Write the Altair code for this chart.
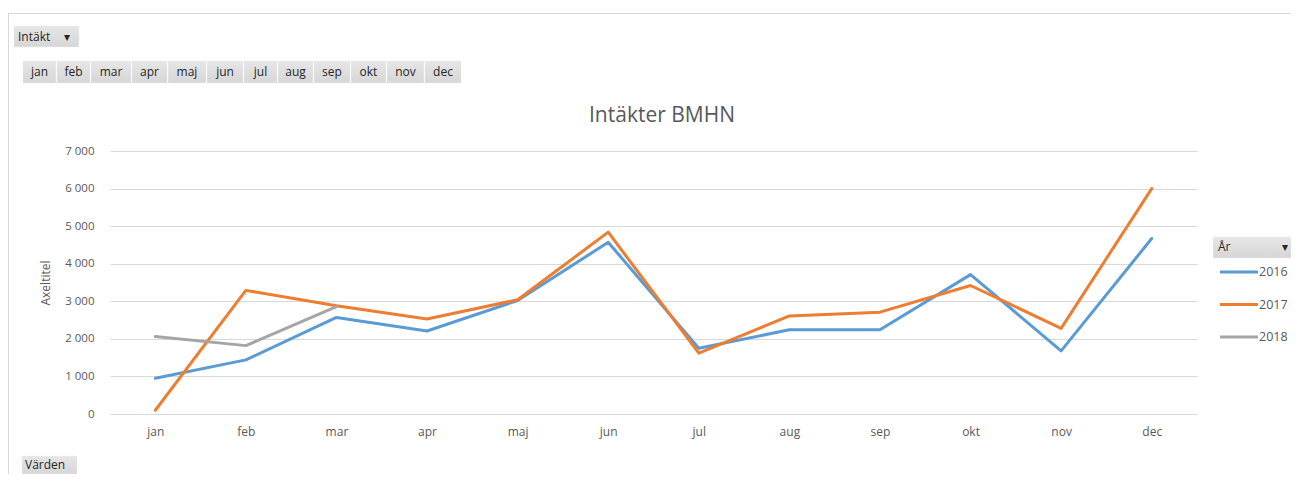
import altair as alt
import pandas as pd

# ---------------- data ----------------
months = ["jan", "feb", "mar", "apr", "maj", "jun", "jul", "aug", "sep", "okt", "nov", "dec"]
years = ["2016", "2017", "2018"]
v2016 = [950, 1440, 2570, 2210, 3020, 4570, 1750, 2240, 2240, 3710, 1680, 4670]
v2017 = [100, 3290, 2880, 2530, 3040, 4840, 1620, 2610, 2710, 3420, 2280, 6000]
v2018 = [2060, 1820, 2860]
colors = ["#5B9BD5", "#ED7D31", "#A5A5A5"]
y_ticks = [0, 1000, 2000, 3000, 4000, 5000, 6000, 7000]
title_text = "Intäkter BMHN"

rows = []
for yr, vals in zip(years, [v2016, v2017, v2018]):
    for m, v in zip(months, vals):
        rows.append({"Månad": m, "År": yr, "Intäkt": v})
df = pd.DataFrame(rows)

# ---------------- layout (page pixels -> plot-relative) ----------------
OX, OY = 110, 151          # plot origin on page
W, H = 1087, 263
FONT = "Open Sans"
GREY_TXT = "#595959"

def px(v):
    return v - OX

def py(v):
    return v - OY

color_scale = alt.Scale(domain=years, range=colors)

lines = alt.Chart(df).mark_line(strokeWidth=3, strokeJoin="round", strokeCap="round").encode(
    x=alt.X("Månad:N", sort=months,
            scale=alt.Scale(type="point", domain=months, padding=0.5),
            axis=alt.Axis(title=None, labelAngle=0, ticks=False, domain=True, domainColor="#D9D9D9",
                          labelPadding=12, labelFontSize=12, labelColor=GREY_TXT, labelFont=FONT, grid=False)),
    y=alt.Y("Intäkt:Q", scale=alt.Scale(domain=[0, 7000], nice=False),
            axis=alt.Axis(values=y_ticks, title="Axeltitel", ticks=False, domain=False,
                          grid=True, gridColor="#D9D9D9", gridWidth=1,
                          labelExpr="replace(format(datum.value, ','), ',', ' ')",
                          labelPadding=16, labelFontSize=11.5, labelColor=GREY_TXT, labelFont=FONT,
                          titleFont=FONT, titleFontSize=12, titleColor=GREY_TXT, titleFontWeight="normal",
                          titlePadding=12)),
    color=alt.Color("År:N", scale=color_scale, legend=None),
)

# ---------------- chart title ----------------
title_mark = alt.Chart(pd.DataFrame({"t": [title_text]})).mark_text(
    align="center", baseline="middle", fontSize=21, font=FONT, color=GREY_TXT).encode(
    x=alt.value(px(662)), y=alt.value(py(116)), text="t:N")

# ---------------- manual legend ----------------
leg_df = pd.DataFrame({"År": years})
leg_y = alt.Y("År:N", scale=alt.Scale(type="point", domain=years, range=[py(272), py(337)], padding=0), axis=None)
leg_rules = alt.Chart(leg_df).mark_rule(strokeWidth=3).encode(
    x=alt.value(px(1220)), x2=alt.value(px(1258)), y=leg_y,
    color=alt.Color("År:N", scale=color_scale, legend=None),
)
leg_text = alt.Chart(leg_df).mark_text(align="left", baseline="middle", fontSize=12.5, font=FONT,
                                        color=GREY_TXT).encode(
    x=alt.value(px(1259)), y=leg_y, text="År:N",
)

# ---------------- pivot-style buttons ----------------
month_edges = [22, 56, 90, 131, 167, 206, 243, 277, 313, 350, 386, 424, 461]
btn_rows = [
    {"x0": px(14), "x1": px(79), "y0": py(26), "y1": py(47)},
    {"x0": px(1213), "x1": px(1297), "y0": py(237), "y1": py(258)},
    {"x0": px(22), "x1": px(77), "y0": py(456), "y1": py(474)},
]
center_txt = []
for i, m in enumerate(months):
    a, b = month_edges[i], month_edges[i + 1]
    btn_rows.append({"x0": px(a + 1), "x1": px(b), "y0": py(61), "y1": py(83)})
    center_txt.append({"t": m, "tx": px((a + b) / 2 + 0.5), "ty": py(72)})
left_txt = [
    {"t": "Intäkt", "tx": px(18), "ty": py(37)},
    {"t": "▾", "tx": px(64), "ty": py(37)},
    {"t": "År", "tx": px(1218), "ty": py(247)},
    {"t": "▾", "tx": px(1282), "ty": py(247)},
    {"t": "Värden", "tx": px(25), "ty": py(465)},
]
btn_df = pd.DataFrame(btn_rows)

buttons = alt.Chart(btn_df).mark_rect(
    fill=alt.Gradient(gradient="linear", stops=[alt.GradientStop(color="#E6E6E6", offset=0),
                                                  alt.GradientStop(color="#D6D6D6", offset=1)],
                      x1=0, x2=0, y1=0, y2=1),
    stroke="#EEEEEE", strokeWidth=0.5,
).encode(
    x=alt.X("x0:Q", scale=None, axis=None), x2="x1:Q",
    y=alt.Y("y0:Q", scale=None, axis=None), y2="y1:Q",
)
btn_text_c = alt.Chart(pd.DataFrame(center_txt)).mark_text(
    align="center", baseline="middle", fontSize=12, font=FONT, color="#262626").encode(
    x=alt.X("tx:Q", scale=None, axis=None), y=alt.Y("ty:Q", scale=None, axis=None), text="t:N")
btn_text_l = alt.Chart(pd.DataFrame(left_txt)).mark_text(
    align="left", baseline="middle", fontSize=12, font=FONT, color="#262626").encode(
    x=alt.X("tx:Q", scale=None, axis=None), y=alt.Y("ty:Q", scale=None, axis=None), text="t:N")

# chart-area border (top and left edges)
frame_top = alt.Chart(pd.DataFrame({"a": [0]})).mark_rule(color="#D9D9D9", strokeWidth=1).encode(
    x=alt.value(px(8)), x2=alt.value(px(1299)), y=alt.value(py(13.5)))
frame_left = alt.Chart(pd.DataFrame({"a": [0]})).mark_rule(color="#D9D9D9", strokeWidth=1).encode(
    x=alt.value(px(8.5)), y=alt.value(py(13)), y2=alt.value(py(482)))

chart = alt.layer(
    frame_top, frame_left, buttons, btn_text_c, btn_text_l, title_mark, lines, leg_rules, leg_text
).resolve_scale(x="independent", y="independent").properties(
    width=W, height=H,
    autosize=alt.AutoSizeParams(type="none"),
    padding={"left": OX - 8, "top": OY - 8, "right": 1291 - (OX + W), "bottom": 474 - (OY + H)},
).configure(background="white").configure_view(stroke=None)

chart.save("out.html", embed_options={"renderer": "svg", "actions": False})
